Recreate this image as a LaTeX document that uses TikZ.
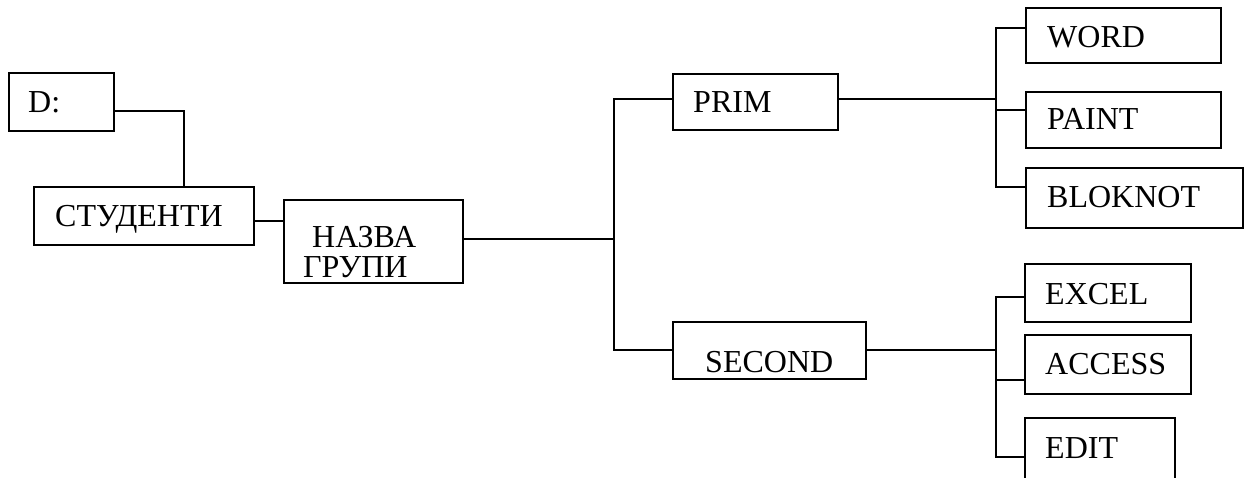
\documentclass[tikz,border=0pt]{standalone}
\usepackage{fontspec}
\setmainfont{Liberation Serif}
\tikzset{
  box/.style={draw, line width=1.8pt, rectangle, inner sep=0pt},
  lbl/.style={anchor=base west, inner sep=0pt, font=\fontsize{32}{38}\selectfont},
  conn/.style={line width=1.8pt}
}
\newcommand{\bx}[5]{\node[box, minimum width={(#4-#2)*1pt}, minimum height={(#5-#3)*1pt}] (#1) at ({(#2+#4)/2},{(#3+#5)/2}) {};}
\begin{document}
\begin{tikzpicture}[x=1pt,y=-1pt]
\useasboundingbox (0,0) rectangle (1247,478);
\clip (0,0) rectangle (1247,478);
\bx{d}{9}{73}{114}{131}
\bx{stud}{34}{187}{254}{245}
\bx{nazva}{284}{200}{463}{283}
\bx{prim}{673}{74}{838}{130}
\bx{second}{673}{322}{866}{379}
\bx{word}{1026}{8}{1221}{63}
\bx{paint}{1026}{92}{1221}{148}
\bx{blok}{1026}{168}{1243}{228}
\bx{excel}{1025}{264}{1191}{322}
\bx{access}{1025}{335}{1191}{394}
\bx{edit}{1025}{418}{1175}{500}
\node[lbl] (td) at (28,113) {D:};
\node[lbl] (tstud) at (55,227) {СТУДЕНТИ};
\node[lbl] (tn1) at (312,248) {НАЗВА};
\node[lbl] (tn2) at (303,277) {ГРУПИ};
\node[lbl] (tprim) at (693,113) {PRIM};
\node[lbl] (tsec) at (705,372) {SECOND};
\node[lbl] (tword) at (1047,48) {WORD};
\node[lbl] (tpaint) at (1047,130) {PAINT};
\node[lbl] (tblok) at (1047,208) {BLOKNOT};
\node[lbl] (texcel) at (1045,304) {EXCEL};
\node[lbl] (tacc) at (1045,374) {ACCESS};
\node[lbl] (tedit) at (1045,458) {EDIT};
\coordinate (t1) at (614,239);
\coordinate (t2) at (996,99);
\coordinate (t3) at (996,350);
\draw[conn] (d.east |- 0,111) -| (184,0 |- stud.north);
\draw[conn] (stud.east |- 0,221) -- (nazva.west |- 0,221);
\draw[conn] (nazva.east |- t1) -- (t1);
\draw[conn] (prim.west |- 0,99) -| (t1) |- (second.west |- 0,350);
\draw[conn] (prim.east |- t2) -- (t2);
\draw[conn] (word.west |- 0,28) -| (t2) |- (paint.west |- 0,110);
\draw[conn] (t2) |- (blok.west |- 0,187);
\draw[conn] (second.east |- t3) -- (t3);
\draw[conn] (excel.west |- 0,297) -| (t3) |- (access.west |- 0,380);
\draw[conn] (t3) |- (edit.west |- 0,457);
\end{tikzpicture}
\end{document}
